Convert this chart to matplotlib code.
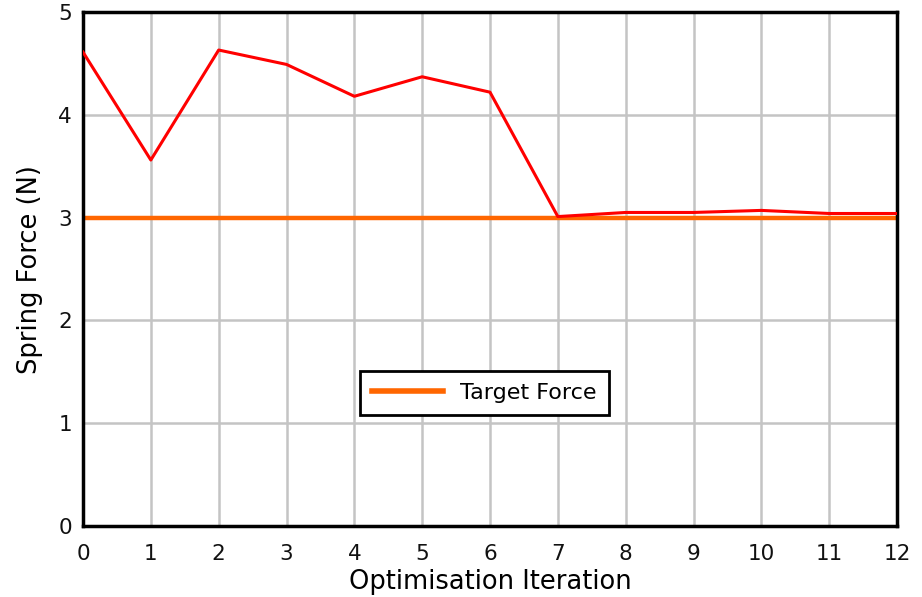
import matplotlib
matplotlib.use("Agg")
import matplotlib.pyplot as plt

iterations = list(range(13))
spring_force = [4.61, 3.56, 4.63, 4.49, 4.18, 4.37, 4.22, 3.01, 3.05, 3.05, 3.07, 3.04, 3.04]
target_force = [3.0] * 13
x_ticks = list(range(13))
y_ticks = [0, 1, 2, 3, 4, 5]

plt.rcParams['font.family'] = ['DejaVu Sans']
fig = plt.figure(figsize=(9.22, 5.97), dpi=100)
W, H = 922, 597
ax = fig.add_axes([83/W, 1-526/H, (897-83)/W, (526-12)/H])

ax.plot(iterations, spring_force, color='#ff0000', lw=2.2, zorder=3)
ax.plot(iterations, target_force, color='#ff6600', lw=3.2, label='Target Force', zorder=2)

ax.set_xlim(0, 12)
ax.set_ylim(0, 5)
ax.set_xticks(x_ticks)
ax.set_yticks(y_ticks)
ax.grid(True, color='#c4c4c4', lw=1.8)
ax.set_axisbelow(True)
ax.tick_params(axis='x', length=0, labelsize=15.5, pad=13, colors='#111111')
ax.tick_params(axis='y', length=0, labelsize=15.5, pad=8, colors='#111111')
for s in ax.spines.values():
    s.set_linewidth(2.5)
    s.set_color('black')
ax.set_xlabel('Optimisation Iteration', fontsize=18.5, va='center')
ax.set_ylabel('Spring Force (N)', fontsize=18.5, va='center')
ax.xaxis.set_label_coords((490-83)/814, (526-582)/514)
ax.yaxis.set_label_coords((30-83)/814, (526-270)/514)

leg = ax.legend(loc='center', bbox_to_anchor=((484.5-83)/814, (526-393)/514), fontsize=16,
                frameon=True, fancybox=False, edgecolor='black', framealpha=1,
                handlelength=3.2, borderpad=0.55, handletextpad=0.75, borderaxespad=0)
leg.get_frame().set_linewidth(2)
for l in leg.get_lines():
    l.set_linewidth(4)

fig.savefig('out.png', dpi=100)
